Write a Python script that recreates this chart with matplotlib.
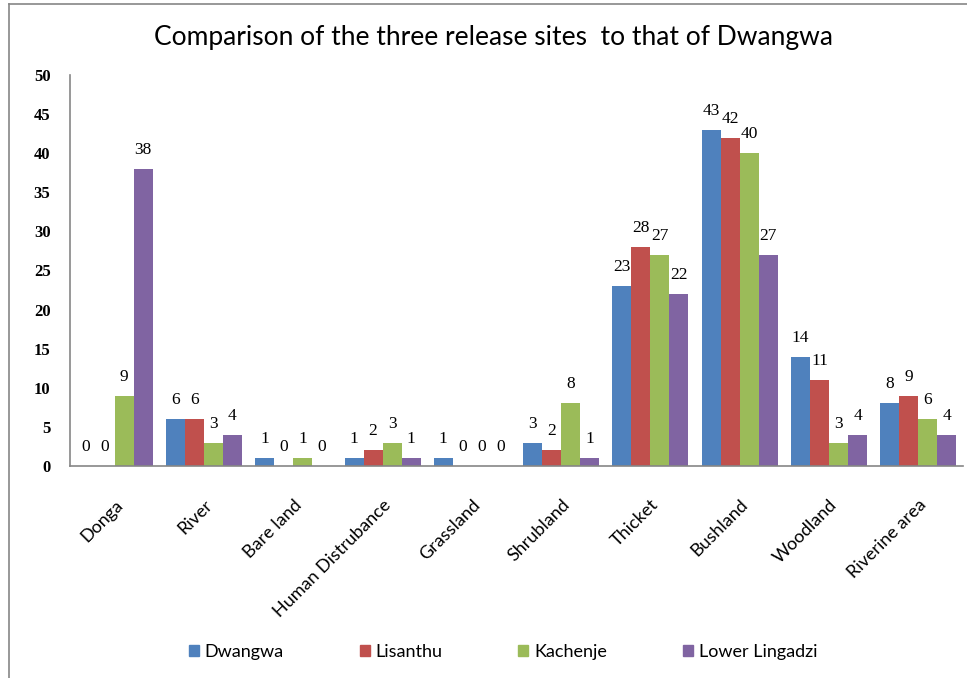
import matplotlib
matplotlib.use("Agg")
import matplotlib.pyplot as plt
import numpy as np
from matplotlib.lines import Line2D

categories = ["Donga", "River", "Bare land", "Human Distrubance", "Grassland",
              "Shrubland", "Thicket", "Bushland", "Woodland", "Riverine area"]
series_names = ["Dwangwa", "Lisanthu", "Kachenje", "Lower Lingadzi"]
dwangwa = [0, 6, 1, 1, 1, 3, 23, 43, 14, 8]
lisanthu = [0, 6, 0, 2, 0, 2, 28, 42, 11, 9]
kachenje = [9, 3, 1, 3, 0, 8, 27, 40, 3, 6]
lower_lingadzi = [38, 4, 0, 1, 0, 1, 22, 27, 4, 4]
yticks = [0, 5, 10, 15, 20, 25, 30, 35, 40, 45, 50]

series = [dwangwa, lisanthu, kachenje, lower_lingadzi]
colors = ["#4F81BD", "#C0504D", "#9BBB59", "#8064A2"]

fig = plt.figure(figsize=(9.67, 6.78), dpi=100)
ax = fig.add_axes([70/967, (678-466)/678, (963-70)/967, (466-75)/678])

x = np.arange(len(categories))
bw = 0.213
for i, (vals, c, name) in enumerate(zip(series, colors, series_names)):
    pos = x + (i - 1.5) * bw
    ax.bar(pos, vals, width=bw, color=c, label=name, zorder=2)
    for p, v in zip(pos, vals):
        ax.text(p, v + 1.4, str(v), ha="center", va="bottom",
                fontsize=12.5, family="Liberation Serif", color="black")

ax.set_xlim(-0.5, len(categories) - 0.5)
ax.set_ylim(0, 50)
ax.set_yticks(yticks)
ax.set_yticklabels([str(t) for t in yticks], family="Liberation Serif",
                   fontsize=12, fontweight="bold")
ax.tick_params(axis="y", length=0, pad=14)
ax.set_xticks(x)
ax.set_xticklabels(categories, rotation=45, ha="right", rotation_mode="anchor",
                   family="Lato", fontsize=13)
ax.tick_params(axis="x", length=0, pad=22)
for s in ["top", "right"]:
    ax.spines[s].set_visible(False)
for s in ["left", "bottom"]:
    ax.spines[s].set_color("#868686")
    ax.spines[s].set_linewidth(1.2)

fig.text(493/967, 1 - 37/678, "Comparison of the three release sites  to that of Dwangwa",
         ha="center", va="center", fontsize=19, family="Lato")

handles = [plt.Rectangle((0, 0), 1, 1, color=c) for c in colors]
fig.legend(handles, series_names, loc="center", bbox_to_anchor=(503/967, 1 - 652/678),
           ncol=4, frameon=False, handlelength=0.55, handleheight=0.55,
           columnspacing=4.2, handletextpad=0.33, prop={"family": "Lato", "size": 13})

# chart border (top and left)
fig.add_artist(Line2D([9/967, 9/967], [0, 1 - 4/678], color="#868686", lw=1.2,
                      transform=fig.transFigure))
fig.add_artist(Line2D([9/967, 1], [1 - 4/678, 1 - 4/678], color="#868686", lw=1.2,
                      transform=fig.transFigure))

fig.savefig("out.png", dpi=100)
